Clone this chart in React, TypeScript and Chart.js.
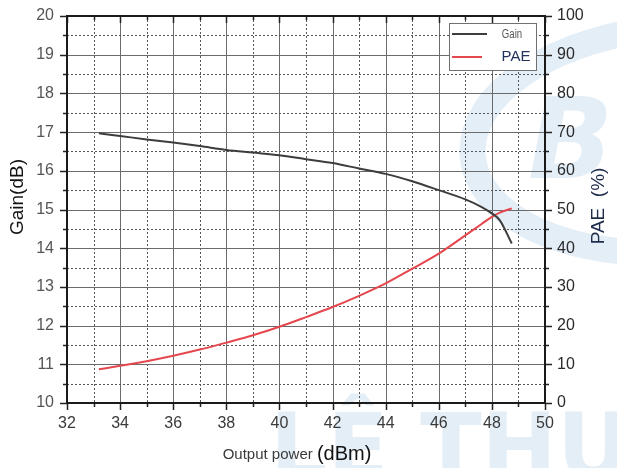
import { useEffect, useRef } from "react";
import { Chart, registerables } from "chart.js";

Chart.register(...registerables);

// Output power sweep (dBm)
const powerDbm = [33.2, 34, 35, 36, 37, 38, 39, 40, 41, 42, 43, 44, 45, 46, 47, 47.6, 48, 48.3, 48.75];
// Small-signal to saturated gain (dB)
const gainDb = [16.97, 16.9, 16.81, 16.73, 16.64, 16.54, 16.47, 16.4, 16.3, 16.2, 16.06, 15.92, 15.73, 15.5, 15.26, 15.07, 14.9, 14.72, 14.12];
// Power-added efficiency (%)
const paePct = [8.7, 9.6, 10.8, 12.2, 13.8, 15.6, 17.5, 19.7, 22.2, 24.8, 27.7, 30.9, 34.7, 38.6, 43.3, 46.2, 48.1, 49.2, 50.3];

const xRange = [32, 50];
const gainRange = [10, 20];
const paeRange = [0, 100];

const seriesNames = ["Gain", "PAE"];
const xTitleMain = "Output power";
const xTitleUnit = "(dBm)";
const gainTitle = "Gain(dB)";
const paeTitle = "PAE  (%)";

const GAIN_COLOR = "#3d3d3d";
const PAE_COLOR = "#e5474e";
const FONT = '"Liberation Sans", Arial, sans-serif';

const backdropPlugin = {
  id: "backdrop",
  beforeDraw(chart: any) {
    const ctx = chart.ctx;
    ctx.save();
    ctx.fillStyle = "#ffffff";
    ctx.fillRect(0, 0, chart.width, chart.height);
    const wm = "#e4eef7";
    ctx.strokeStyle = wm;
    ctx.lineWidth = 26;
    ctx.beginPath();
    ctx.ellipse(672, 140, 200, 112, -0.08, 0, Math.PI * 2);
    ctx.stroke();
    ctx.fillStyle = wm;
    ctx.font = 'italic bold 112px "DejaVu Sans"';
    ctx.textBaseline = "alphabetic";
    ctx.fillText("Bo", 528, 178);
    ctx.font = 'bold 90px "DejaVu Sans"';
    ctx.fillText("LÊ THU", 270, 478);
    ctx.restore();
  },
};

const framePlugin = {
  id: "frame",
  beforeDatasetsDraw(chart: any) {
    const { ctx, chartArea: a, scales } = chart;
    const xs = scales.x;
    const ys = scales.y;
    ctx.save();
    ctx.lineWidth = 1;
    // vertical grid
    for (let v = xRange[0] + 1; v < xRange[1]; v += 1) {
      const px = Math.round(xs.getPixelForValue(v)) + 0.5;
      const major = v % 2 === 0;
      ctx.strokeStyle = major ? "#6b6b6b" : "#555555";
      ctx.setLineDash(major ? [] : [2, 2]);
      ctx.beginPath();
      ctx.moveTo(px, a.top);
      ctx.lineTo(px, a.bottom);
      ctx.stroke();
    }
    // horizontal grid
    for (let v = gainRange[0] + 0.5; v < gainRange[1]; v += 0.5) {
      const py = Math.round(ys.getPixelForValue(v)) + 0.5;
      const major = Number.isInteger(v);
      ctx.strokeStyle = major ? "#6b6b6b" : "#555555";
      ctx.setLineDash(major ? [] : [2, 2]);
      ctx.beginPath();
      ctx.moveTo(a.left, py);
      ctx.lineTo(a.right, py);
      ctx.stroke();
    }
    ctx.setLineDash([]);
    // tick marks
    ctx.strokeStyle = "#222222";
    ctx.lineWidth = 1.5;
    for (let v = xRange[0]; v <= xRange[1]; v += 1) {
      const px = Math.round(xs.getPixelForValue(v)) + 0.5;
      const len = v % 2 === 0 ? 7 : 4;
      ctx.beginPath();
      ctx.moveTo(px, a.bottom);
      ctx.lineTo(px, a.bottom + len);
      ctx.moveTo(px, a.top);
      ctx.lineTo(px, a.top + len);
      ctx.stroke();
    }
    for (let v = gainRange[0]; v <= gainRange[1]; v += 0.5) {
      const py = Math.round(ys.getPixelForValue(v)) + 0.5;
      const len = Number.isInteger(v) ? 7 : 4;
      ctx.beginPath();
      ctx.moveTo(a.left - len, py);
      ctx.lineTo(a.left, py);
      ctx.moveTo(a.right, py);
      ctx.lineTo(a.right + len, py);
      ctx.stroke();
    }
    // frame
    ctx.strokeStyle = "#1a1a1a";
    ctx.lineWidth = 2;
    ctx.strokeRect(a.left, a.top, a.right - a.left, a.bottom - a.top);
    ctx.restore();
  },
  afterDraw(chart: any) {
    const { ctx } = chart;
    ctx.save();
    // axis titles
    ctx.textBaseline = "alphabetic";
    ctx.textAlign = "left";
    ctx.font = `15px ${FONT}`;
    const wMain = ctx.measureText(xTitleMain + " ").width;
    ctx.font = `20px ${FONT}`;
    const wUnit = ctx.measureText(xTitleUnit).width;
    const startX = 297 - (wMain + wUnit) / 2;
    ctx.font = `15px ${FONT}`;
    ctx.fillStyle = "#3a3a3a";
    ctx.fillText(xTitleMain + " ", startX, 459);
    ctx.font = `20px ${FONT}`;
    ctx.fillStyle = "#111111";
    ctx.fillText(xTitleUnit, startX + wMain, 460);

    ctx.save();
    ctx.translate(23, 197);
    ctx.rotate(-Math.PI / 2);
    ctx.textAlign = "center";
    ctx.font = `19px ${FONT}`;
    ctx.fillStyle = "#111111";
    ctx.fillText(gainTitle, 0, 0);
    ctx.restore();

    ctx.save();
    ctx.translate(604, 206);
    ctx.rotate(-Math.PI / 2);
    ctx.textAlign = "center";
    ctx.font = `19px ${FONT}`;
    ctx.fillStyle = "#1f2c4c";
    ctx.fillText(paeTitle, 0, 0);
    ctx.restore();

    // legend
    const bx = 449, by = 23, bw = 87, bh = 47;
    ctx.fillStyle = "#ffffff";
    ctx.fillRect(bx, by, bw, bh);
    ctx.strokeStyle = "#707070";
    ctx.lineWidth = 1;
    ctx.strokeRect(bx + 0.5, by + 0.5, bw, bh);
    ctx.lineWidth = 2;
    ctx.strokeStyle = GAIN_COLOR;
    ctx.beginPath();
    ctx.moveTo(452, 34);
    ctx.lineTo(487, 34);
    ctx.stroke();
    ctx.strokeStyle = PAE_COLOR;
    ctx.beginPath();
    ctx.moveTo(452, 57);
    ctx.lineTo(482, 57);
    ctx.stroke();
    ctx.textAlign = "center";
    ctx.textBaseline = "middle";
    ctx.fillStyle = "#555555";
    ctx.save();
    ctx.translate(512, 35);
    ctx.scale(0.8, 1);
    ctx.font = `12px ${FONT}`;
    ctx.fillText(seriesNames[0], 0, 0);
    ctx.restore();
    ctx.fillStyle = "#24335a";
    ctx.font = `15px ${FONT}`;
    ctx.fillText(seriesNames[1], 516, 57);
    ctx.restore();
  },
};

// Fixed axis bands so the plot area keeps its exact frame.
const fitX = (s: any) => {
  s.height = 65;
  s.paddingLeft = 0;
  s.paddingRight = 0;
};
const fitY = (w: number) => (s: any) => {
  s.width = w;
  s.paddingTop = 0;
  s.paddingBottom = 0;
};

export default function App() {
  const ref = useRef<HTMLCanvasElement | null>(null);

  useEffect(() => {
    if (!ref.current) return;
    const tickFont = { family: FONT, size: 16 };
    const chart = new Chart(ref.current, {
      type: "line",
      data: {
        datasets: [
          {
            label: seriesNames[0],
            data: powerDbm.map((x, i) => ({ x, y: gainDb[i] })),
            borderColor: GAIN_COLOR,
            borderWidth: 2,
            pointRadius: 0,
            cubicInterpolationMode: "monotone",
            yAxisID: "y",
          },
          {
            label: seriesNames[1],
            data: powerDbm.map((x, i) => ({ x, y: paePct[i] })),
            borderColor: PAE_COLOR,
            borderWidth: 2,
            pointRadius: 0,
            cubicInterpolationMode: "monotone",
            yAxisID: "y1",
          },
        ],
      },
      options: {
        responsive: false,
        animation: false,
        layout: { padding: { top: 16, left: 0, right: 0, bottom: 0 } },
        plugins: { legend: { display: false }, tooltip: { enabled: false } },
        scales: {
          x: {
            type: "linear",
            position: "bottom",
            min: xRange[0],
            max: xRange[1],
            afterFit: fitX,
            grid: { display: false, drawTicks: false },
            border: { display: false },
            ticks: { stepSize: 2, padding: 11, color: "#3a3a3a", font: tickFont },
          },
          y: {
            type: "linear",
            position: "left",
            min: gainRange[0],
            max: gainRange[1],
            afterFit: fitY(67),
            grid: { display: false, drawTicks: false },
            border: { display: false },
            ticks: { stepSize: 1, padding: 13, color: "#555555", font: tickFont },
          },
          y1: {
            type: "linear",
            position: "right",
            min: paeRange[0],
            max: paeRange[1],
            afterFit: fitY(72),
            grid: { display: false, drawTicks: false },
            border: { display: false },
            ticks: { stepSize: 10, padding: 12, color: "#2a2a2a", font: tickFont },
          },
        },
      },
      plugins: [backdropPlugin, framePlugin],
    });
    return () => chart.destroy();
  }, []);

  return (
    <div style={{ position: "absolute", left: 0, top: 0, width: 617, height: 468 }}>
      <canvas ref={ref} width={617} height={468} style={{ display: "block" }} />
    </div>
  );
}
